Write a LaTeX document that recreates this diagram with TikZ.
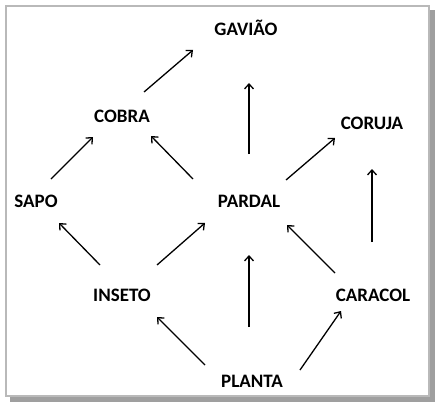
\documentclass[tikz,border=0pt]{standalone}
\usepackage{fontspec}
\setmainfont{Carlito}
\usetikzlibrary{arrows.meta}
\begin{document}
\begin{tikzpicture}[x=1pt,y=-1pt,
  lbl/.style={font=\bfseries\fontsize{19}{21}\selectfont, inner sep=0pt},
  arr/.style={-{Straight Barb[length=5pt,width=9pt,line width=1.3pt]}, line width=1.3pt, black}]
\useasboundingbox (0,0) rectangle (441,409);
\fill[gray!75] (10,10) rectangle (435,402);
\draw[fill=white, draw=gray!55, line width=2.2pt] (6,6) rectangle (429,396);
\node[lbl] (gaviao) at (246,28) {GAVIÃO};
\node[lbl] (cobra) at (122,116) {COBRA};
\node[lbl] (coruja) at (372,123) {CORUJA};
\node[lbl] (sapo) at (36,201) {SAPO};
\node[lbl] (pardal) at (249,201) {PARDAL};
\node[lbl] (inseto) at (122,295) {INSETO};
\node[lbl] (caracol) at (373,295) {CARACOL};
\node[lbl] (planta) at (252,381) {PLANTA};
% connector endpoints
\coordinate (a1) at (144,92);  \coordinate (b1) at (193,50);
\coordinate (a2) at (249,154); \coordinate (b2) at (249,83);
\coordinate (a3) at (51,179);  \coordinate (b3) at (93,137);
\coordinate (a4) at (193,179); \coordinate (b4) at (151,136);
\coordinate (a5) at (286,180); \coordinate (b5) at (335,138);
\coordinate (a6) at (372,242); \coordinate (b6) at (372,169);
\coordinate (a7) at (100,265); \coordinate (b7) at (59,223);
\coordinate (a8) at (157,265); \coordinate (b8) at (205,223);
\coordinate (a9) at (249,327); \coordinate (b9) at (249,255);
\coordinate (a10) at (335,273); \coordinate (b10) at (287,225);
\coordinate (a11) at (205,365); \coordinate (b11) at (157,317);
\coordinate (a12) at (300,370); \coordinate (b12) at (341,311);
\foreach \i in {1,...,12} \draw[arr] (a\i) -- (b\i);
\end{tikzpicture}
\end{document}
